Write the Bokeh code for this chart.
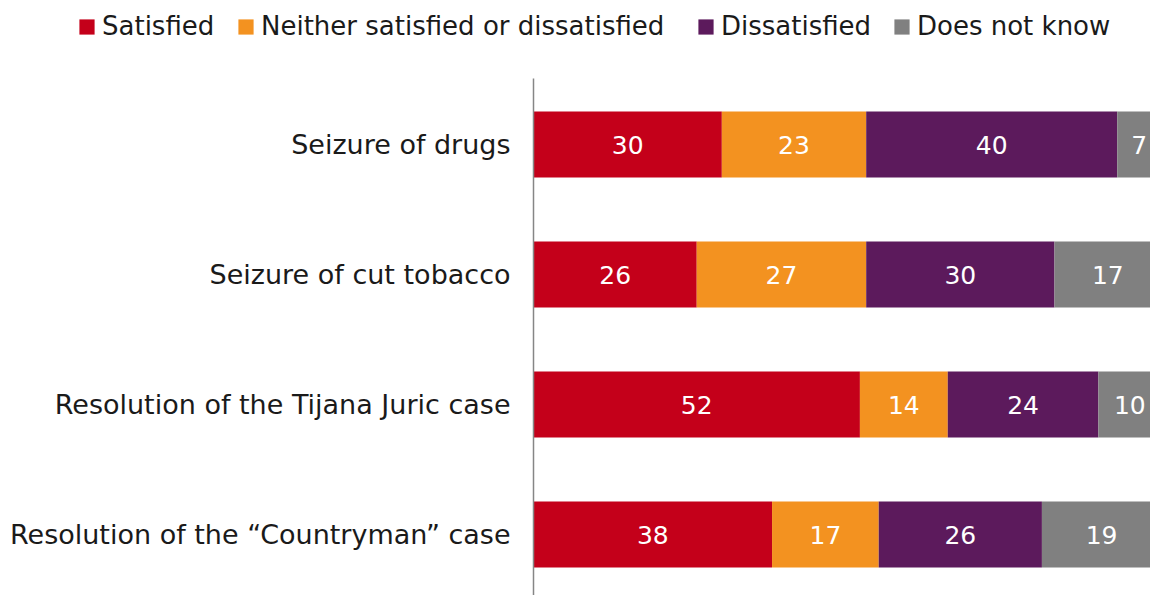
from bokeh.plotting import figure
from bokeh.models import ColumnDataSource, Range1d, FixedTicker, Legend, LegendItem
from bokeh.core.properties import value
from bokeh.embed import file_html
from bokeh.resources import INLINE

categories = ["Seizure of drugs", "Seizure of cut tobacco",
              "Resolution of the Tijana Juric case",
              "Resolution of the \u201cCountryman\u201d case"]
series = ["Satisfied", "Neither satisfied or dissatisfied", "Dissatisfied", "Does not know"]
satisfied = [30, 26, 52, 38]
neither = [23, 27, 14, 17]
dissatisfied = [40, 30, 24, 26]
dont_know = [7, 17, 10, 19]
colors = ["#C4001A", "#F39220", "#5C1A5C", "#808080"]

FONT = "DejaVu Sans"

values = [satisfied, neither, dissatisfied, dont_know]
ypos = list(range(len(categories)))

p = figure(width=1150, height=595, output_backend="svg", toolbar_location=None,
           x_range=Range1d(-84.93, 98.3), y_range=Range1d(3.469, -1.108),
           min_border_left=0, min_border_right=0, min_border_top=0, min_border_bottom=0)

legend_x = [77, 236, 696, 892]
left = [0] * len(categories)
for name, vals, col, lx in zip(series, values, colors, legend_x):
    right = [l + v for l, v in zip(left, vals)]
    src = ColumnDataSource(dict(y=ypos, left=left, right=right,
                                mid=[(l + r) / 2 for l, r in zip(left, right)],
                                txt=[str(v) for v in vals]))
    r = p.hbar(y="y", left="left", right="right", height=0.508, source=src,
               fill_color=col, line_color=None)
    p.text(x="mid", y="y", text="txt", source=src, text_align="center",
           text_baseline="middle", text_color="white", text_font=value(FONT),
           text_font_size="25px")
    lg = Legend(items=[LegendItem(label=name, renderers=[r])], location=(lx, 554),
                label_text_font=FONT, label_text_font_size="26px", label_text_color="#1a1a1a",
                glyph_width=19, glyph_height=19, label_standoff=6, spacing=0,
                padding=0, margin=0, border_line_color=None, background_fill_alpha=0)
    p.add_layout(lg, "center")
    left = right

p.xaxis.visible = False
p.xgrid.visible = False
p.ygrid.visible = False
p.outline_line_color = None

ax = p.yaxis[0]
ax.fixed_location = 0
ax.bounds = (-0.508, 3.469)
ax.ticker = FixedTicker(ticks=ypos)
ax.major_label_overrides = {i: c for i, c in zip(ypos, categories)}
ax.axis_line_color = "#868686"
ax.axis_line_width = 1.5
ax.major_tick_line_color = None
ax.minor_tick_line_color = None
ax.major_label_standoff = 17
ax.major_label_text_font = FONT
ax.major_label_text_font_size = "27px"
ax.major_label_text_color = "#1a1a1a"

open("out.html", "w").write(file_html(p, INLINE))
